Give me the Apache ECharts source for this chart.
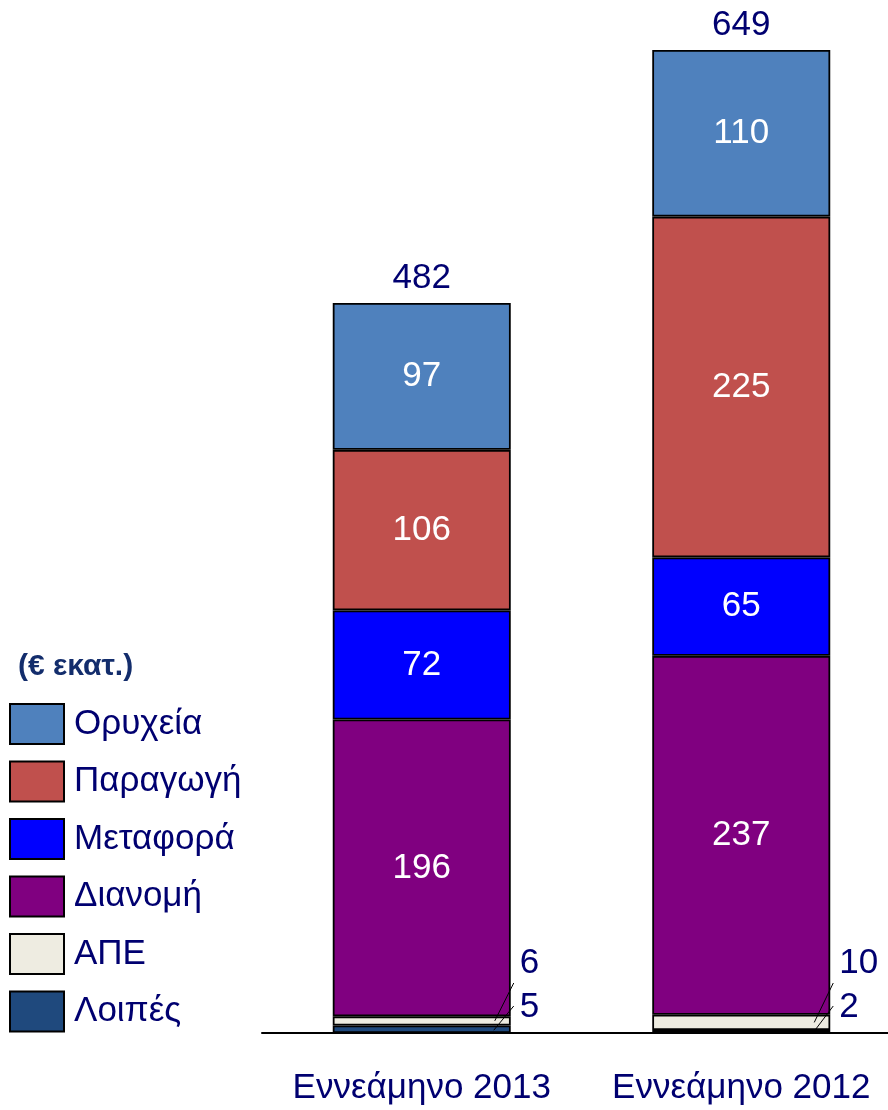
<!DOCTYPE html>
<html>
<head>
<meta charset="utf-8">
<script src="https://cdn.jsdelivr.net/npm/echarts@6/dist/echarts.min.js"></script>
<style>
html,body{margin:0;padding:0;background:#fff;}
#c{width:888px;height:1110px;}
</style>
</head>
<body>
<div id="c"></div>
<script>
var categories = ['Εννεάμηνο 2013', 'Εννεάμηνο 2012'];
var seriesNames = ['Ορυχεία', 'Παραγωγή', 'Μεταφορά', 'Διανομή', 'ΑΠΕ', 'Λοιπές'];
var oryxeia = [97, 110];
var paragogi = [106, 225];
var metafora = [72, 65];
var dianomi = [196, 237];
var ape = [6, 10];
var loipes = [5, 2];
var totals = [482, 649];
var unitLabel = '(€ εκατ.)';

var FONT = '"Liberation Sans", Arial, sans-serif';
var NAVY = '#000070';
var FS = 35;
var colors = {
  'Ορυχεία': '#4f81bd',
  'Παραγωγή': '#c0504d',
  'Μεταφορά': '#0000ff',
  'Διανομή': '#800080',
  'ΑΠΕ': '#eeece1',
  'Λοιπές': '#1f497d'
};

function barSeries(name, data, showLabel) {
  return {
    name: name,
    type: 'bar',
    stack: 'total',
    barWidth: 178,
    data: data,
    itemStyle: { color: colors[name], borderColor: '#000', borderWidth: 1.8 },
    label: {
      show: showLabel,
      position: 'inside',
      color: '#fff',
      fontSize: FS,
      fontFamily: FONT
    },
    emphasis: { disabled: true }
  };
}

var smallData = categories.map(function (c, i) {
  return [i, loipes[i], ape[i], totals[i]];
});

var chart = echarts.init(document.getElementById('c'), null, { renderer: 'canvas' });
chart.setOption({
  animation: false,
  backgroundColor: '#fff',
  title: {
    text: unitLabel,
    left: 18,
    top: 652,
    padding: 0,
    textStyle: { fontFamily: FONT, fontSize: 30, fontWeight: 'bold', color: '#132d6c' }
  },
  legend: {
    orient: 'vertical',
    left: 9,
    top: 703,
    padding: 0,
    itemWidth: 54,
    itemHeight: 40,
    itemGap: 15.5,
    icon: 'rect',
    data: seriesNames,
    selectedMode: false,
    textStyle: { fontFamily: FONT, fontSize: FS, color: NAVY, padding: [0, 0, 0, 5] }
  },
  grid: { left: 262, width: 639, top: 50, bottom: 77, containLabel: false, outerBoundsMode: 'none' },
  xAxis: {
    type: 'category',
    data: categories,
    axisLine: { show: true, lineStyle: { color: '#000', width: 2 } },
    axisTick: { show: false },
    axisLabel: { fontFamily: FONT, fontSize: FS, color: NAVY, margin: 38, interval: 0, hideOverlap: false }
  },
  yAxis: {
    type: 'value',
    min: 0,
    max: 649,
    show: false,
    splitLine: { show: false }
  },
  series: [
    barSeries('Λοιπές', loipes, false),
    barSeries('ΑΠΕ', ape, false),
    barSeries('Διανομή', dianomi, true),
    barSeries('Μεταφορά', metafora, true),
    barSeries('Παραγωγή', paragogi, true),
    barSeries('Ορυχεία', oryxeia, true),
    {
      type: 'custom',
      name: 'labels',
      coordinateSystem: 'cartesian2d',
      data: smallData,
      encode: { x: 0, y: 3 },
      z: 10,
      renderItem: function (params, api) {
        var cat = api.value(0);
        var lo = api.value(1);
        var ap = api.value(2);
        var tot = api.value(3);
        var base = api.coord([cat, 0]);
        var right = base[0] + 89;
        var midLo = api.coord([cat, lo / 2])[1];
        var midAp = api.coord([cat, lo + ap / 2])[1];
        var top = api.coord([cat, tot]);
        var y0 = base[1];
        var lineStyle = { stroke: '#000', lineWidth: 1 };
        var txt = function (x, y, s, align) {
          return {
            type: 'text',
            style: {
              x: x, y: y, text: s, fill: NAVY,
              font: FS + 'px ' + FONT,
              align: align, verticalAlign: 'middle'
            }
          };
        };
        return {
          type: 'group',
          children: [
            { type: 'line', shape: { x1: right - 16, y1: midAp, x2: right + 3, y2: y0 - 50 }, style: lineStyle },
            { type: 'line', shape: { x1: right - 17, y1: midLo + 1, x2: right + 3, y2: y0 - 27 }, style: lineStyle },
            txt(right + 9, y0 - 70, String(ap), 'left'),
            txt(right + 9, y0 - 26, String(lo), 'left'),
            txt(top[0], top[1] - 25, String(tot), 'center')
          ]
        };
      }
    }
  ]
});
</script>
</body>
</html>
